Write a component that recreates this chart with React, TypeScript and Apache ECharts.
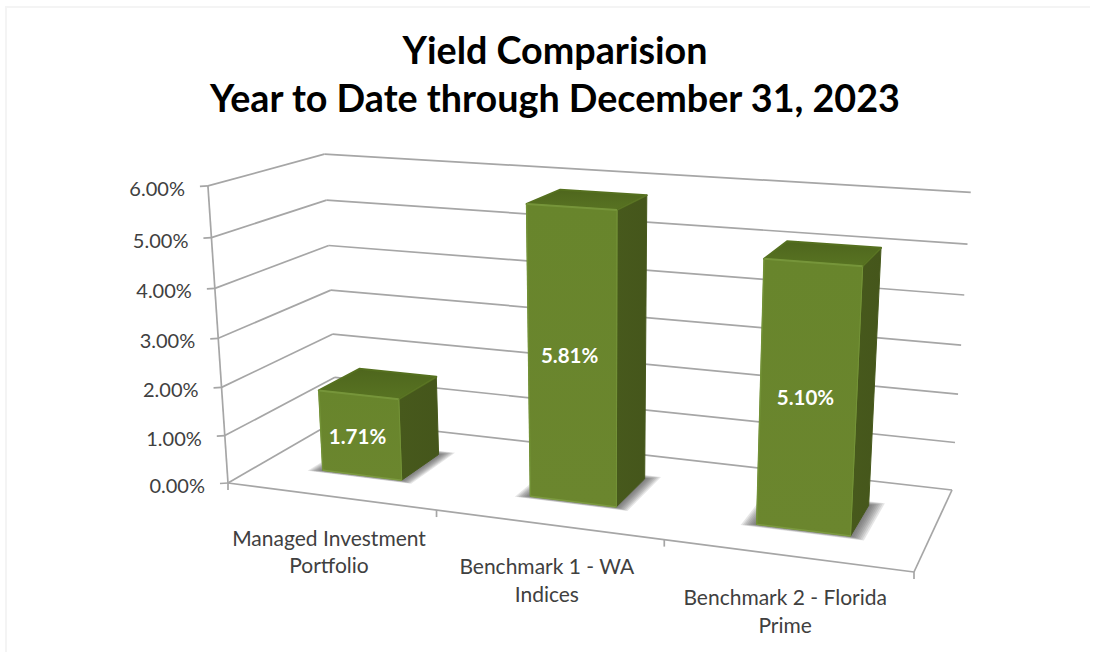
import React, { useEffect, useRef } from "react";
import * as echarts from "echarts";

const titleLines = ["Yield Comparision", "Year to Date through December 31, 2023"];
const categories = ["Managed Investment\nPortfolio", "Benchmark 1 - WA\nIndices", "Benchmark 2 - Florida\nPrime"];
const seriesValues = [1.71, 5.81, 5.1];
const valueLabels = ["1.71%", "5.81%", "5.10%"];
const tickValues = [0, 1, 2, 3, 4, 5, 6];
const tickLabels = ["0.00%", "1.00%", "2.00%", "3.00%", "4.00%", "5.00%", "6.00%"];

// Perspective of the chart box (floor quadrilateral, vanishing point of the verticals).
const FLOOR = { fl: [228, 483], fr: [914, 572], br: [952, 490], bl: [337, 420] };
const VANISH = [603, 6034];
const LIFT = -0.0508;
const BAR_WIDTH = 0.39; // share of a category band
const DEPTH_FRONT = 0.295;
const DEPTH_BACK = 0.68;
const GRID = { left: 100, top: 100, width: 900, height: 400 };
const LINE = "#a6a6a6";
const FONT = "Lato";
const SHADOW_LAYERS = 8;

function makeProjector() {
  const { fl, fr, br, bl } = FLOOR;
  const sx = fl[0] - fr[0] + br[0] - bl[0];
  const sy = fl[1] - fr[1] + br[1] - bl[1];
  const dx1 = fr[0] - br[0];
  const dx2 = bl[0] - br[0];
  const dy1 = fr[1] - br[1];
  const dy2 = bl[1] - br[1];
  const den = dx1 * dy2 - dx2 * dy1;
  const g = (sx * dy2 - dx2 * sy) / den;
  const h = (dx1 * sy - sx * dy1) / den;
  const a = fr[0] * (1 + g) - fl[0];
  const b = bl[0] * (1 + h) - fl[0];
  const d = fr[1] * (1 + g) - fl[1];
  const e = bl[1] * (1 + h) - fl[1];
  // u: along the front edge, v: depth, t: height share, all 0..1
  return (u: number, v: number, t: number): number[] => {
    const w = 1 + g * u + h * v;
    const x = (fl[0] + a * u + b * v) / w;
    const y = (fl[1] + d * u + e * v) / w;
    const k = (LIFT * t) / w;
    return [(x + k * VANISH[0]) / (1 + k), (y + k * VANISH[1]) / (1 + k)];
  };
}
const project = makeProjector();

function lineEl(p: number[], q: number[], width = 1.7, stroke = LINE) {
  return {
    type: "line",
    shape: { x1: p[0], y1: p[1], x2: q[0], y2: q[1] },
    style: { stroke, lineWidth: width, fill: "none" },
  };
}

function poly(points: number[][], fill: any, extra: any = {}) {
  return { type: "polygon", shape: { points }, style: { fill, ...extra } };
}

function gradient(a: string, b: string, x2 = 0, y2 = 1) {
  return new echarts.graphic.LinearGradient(0, 0, x2, y2, [
    { offset: 0, color: a },
    { offset: 1, color: b },
  ]);
}

function renderFrame(params: any, api: any) {
  const sys = params.coordSys;
  const py = api.coord([0, api.value(1)])[1];
  const t = (sys.y + sys.height - py) / sys.height;
  const fl = project(0, 0, t);
  const bl = project(0, 1, t);
  const br = project(1, 1, t);
  const kids: any[] = [
    lineEl(fl, bl),
    lineEl(bl, br),
    lineEl(fl, [fl[0] - 8, fl[1] + 0.5]),
    {
      type: "text",
      style: {
        text: tickLabels[params.dataIndex],
        x: fl[0] - 23,
        y: fl[1] + 2,
        align: "right",
        verticalAlign: "middle",
        font: `20px ${FONT}`,
        fill: "#404040",
      },
    },
  ];
  if (params.dataIndex === 0) {
    const fr = project(1, 0, 0);
    kids.push(lineEl(fl, fr), lineEl(fr, br), lineEl(fl, project(0, 0, 1)));
    categories.forEach((_, i) => {
      const p = project(i / categories.length, 0, 0);
      kids.push(lineEl(p, [p[0], p[1] + 7]));
    });
    const end = project(1, 0, 0);
    kids.push(lineEl(end, [end[0], end[1] + 7]));
  }
  return { type: "group", children: kids };
}

function renderBar(params: any, api: any) {
  const sys = params.coordSys;
  const i = api.value(0);
  const c = api.coord([i, api.value(1)]);
  const band = api.size([1, 0])[0];
  const uc = (c[0] - sys.x) / sys.width;
  const half = (band * BAR_WIDTH) / 2 / sys.width;
  const t = (sys.y + sys.height - c[1]) / sys.height;
  const u0 = uc - half;
  const u1 = uc + half;
  const v0 = DEPTH_FRONT;
  const v1 = DEPTH_BACK;

  const fbl = project(u0, v0, 0);
  const fbr = project(u1, v0, 0);
  const ftl = project(u0, v0, t);
  const ftr = project(u1, v0, t);
  const bbr = project(u1, v1, 0);
  const btl = project(u0, v1, t);
  const btr = project(u1, v1, t);

  // Soft floor shadow: stacked translucent footprints, widest (faintest) first.
  const shadows: any[] = [];
  for (let n = SHADOW_LAYERS; n >= 1; n--) {
    const s = n / SHADOW_LAYERS;
    const pu = 0.02 * s;
    shadows.push(
      poly(
        [
          project(u0 - pu, v0 - 0.03 * s, 0),
          project(u1 + pu, v0 - 0.03 * s, 0),
          project(u1 + pu, v1 + 0.05 * s, 0),
          project(u0 - pu, v1 + 0.05 * s, 0),
        ],
        "rgba(80,80,80,0.14)",
        { lineJoin: "round" },
      ),
    );
  }
  const cx = (ftl[0] + ftr[0] + fbl[0] + fbr[0]) / 4;
  const cy = (ftl[1] + ftr[1] + fbl[1] + fbr[1]) / 4;
  const lab = project(uc, 0, 0);
  const round = { lineJoin: "round" };

  return {
    type: "group",
    children: [
      ...shadows,
      poly([ftr, btr, bbr, fbr], gradient("#47591c", "#45561b", 1, 0), { stroke: "#47591c", lineWidth: 1, ...round }),
      poly([ftl, btl, btr, ftr], gradient("#4e661d", "#587322", 0, 1), { stroke: "#55701f", lineWidth: 2, ...round }),
      poly([ftl, ftr, fbr, fbl], gradient("#68852c", "#6b862e", 0, 1), { stroke: "#6a862d", lineWidth: 1, ...round }),
      lineEl(ftl, ftr, 2, "#76953a"),
      lineEl(ftl, fbl, 1.5, "#729136"),
      lineEl(ftr, fbr, 1, "#749338"),
      lineEl(fbl, fbr, 1.5, "#7c9a40"),
      lineEl(ftr, btr, 1, "#5c7526"),
      {
        type: "text",
        style: {
          text: valueLabels[params.dataIndex],
          x: cx - 3,
          y: cy + 1,
          align: "center",
          verticalAlign: "middle",
          font: `bold 20.5px ${FONT}`,
          fill: "#ffffff",
        },
      },
      {
        type: "text",
        style: {
          text: categories[params.dataIndex],
          x: lab[0] - 1,
          y: lab[1] + 55,
          align: "center",
          verticalAlign: "middle",
          lineHeight: 27.5,
          font: `21px ${FONT}`,
          fill: "#404040",
        },
      },
    ],
  };
}

export default function App() {
  const ref = useRef<HTMLDivElement>(null);
  useEffect(() => {
    document.body.style.margin = "0";
    document.body.style.background = "#ffffff";
    const chart = echarts.init(ref.current!, null, { renderer: "svg" });
    chart.setOption({
      animation: false,
      backgroundColor: "#ffffff",
      title: {
        text: titleLines.join("\n"),
        left: 550,
        top: 20,
        textAlign: "center",
        textStyle: { fontFamily: FONT, fontWeight: "bold", fontSize: 37.7, lineHeight: 48, color: "#000000" },
      },
      grid: { ...GRID },
      xAxis: { type: "category", data: categories, show: false },
      yAxis: { type: "value", min: 0, max: 6, interval: 1, show: false },
      graphic: [
        { type: "rect", shape: { x: 5, y: 6, width: 1085, height: 2 }, style: { fill: "#f4f4f4" }, silent: true },
        { type: "rect", shape: { x: 5, y: 6, width: 2, height: 646 }, style: { fill: "#f4f4f4" }, silent: true },
      ],
      series: [
        {
          type: "custom",
          name: "Axis",
          coordinateSystem: "cartesian2d",
          clip: false,
          silent: true,
          z: 1,
          renderItem: renderFrame,
          data: tickValues.map((v) => [0, v]),
          encode: { x: 0, y: 1 },
        },
        {
          type: "custom",
          name: "Yield",
          coordinateSystem: "cartesian2d",
          clip: false,
          silent: true,
          z: 2,
          renderItem: renderBar,
          data: seriesValues.map((v, i) => [i, v]),
          encode: { x: 0, y: 1 },
        },
      ],
    });
    return () => chart.dispose();
  }, []);
  return <div ref={ref} style={{ width: 1094, height: 660 }} />;
}
